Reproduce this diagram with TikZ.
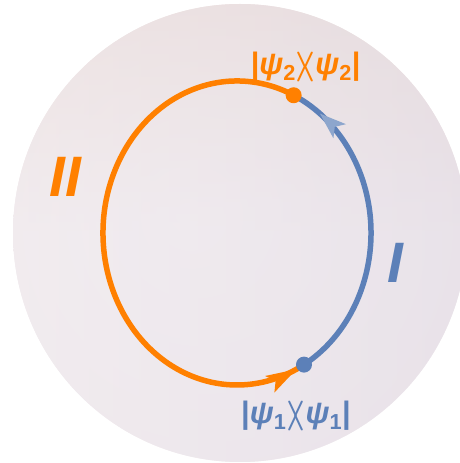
\documentclass[tikz,border=0pt]{standalone}
\usepackage{fontspec}
\setmainfont{Liberation Sans}
\usetikzlibrary{positioning,arrows.meta,decorations.markings}
\definecolor{pathorange}{RGB}{255,128,0}
\definecolor{pathblue}{RGB}{92,128,184}
\definecolor{ballmid}{RGB}{243,238,241}
\definecolor{ballhalf}{RGB}{235,226,230}
\definecolor{ballrim}{RGB}{220,200,205}
\definecolor{ballwarm}{RGB}{232,208,194}
\definecolor{ballcool}{RGB}{228,222,232}
\pgfdeclareradialshading{ballshade}{\pgfpoint{-6bp}{2bp}}{color(0bp)=(ballmid); color(30bp)=(ballhalf); color(50bp)=(ballrim)}
\begin{document}
\begin{tikzpicture}[x=1pt,y=1pt,
    loop/.style={line width=5.5,line cap=round},
    statedot/.style={circle,fill,inner sep=0,minimum size=16},
    ketlbl/.style={font=\fontsize{31}{34}\selectfont\bfseries\boldmath,inner sep=0},
    numlbl/.style={font=\fontsize{57}{60}\selectfont\bfseries\itshape,inner sep=0}]
  \useasboundingbox (0,0) rectangle (460,463);
  % sphere
  \begin{scope}
    \clip (0,0) rectangle (460,463);
    \shade[shading=ballshade] (240,230) ellipse (227 and 229);
    \shade[top color=ballwarm,bottom color=ballmid,middle color=ballmid,opacity=0.45] (240,230) ellipse (227 and 229);
    \shade[left color=ballmid,right color=ballcool,opacity=0.5] (240,230) ellipse (227 and 229);
  \end{scope}
  % states on the loop
  \coordinate (c) at (237,230);
  \path (c) ++(65:134 and 152) coordinate (p2);
  \path (c) ++(-60:134 and 152) coordinate (p1);
  % path II
  \draw[loop,pathorange,postaction={decorate},
    decoration={markings,mark=at position 0.985 with {\arrow{Stealth[length=30,width=18,inset=6]}}}]
    (p2) arc[start angle=65,end angle=300,x radius=134,y radius=152];
  % path I
  \draw[loop,pathblue,postaction={decorate},
    decoration={markings,mark=at position 0.9 with {\arrow[pathblue!70!white]{Stealth[length=26,width=18,inset=6]}}}]
    (p1) arc[start angle=-60,end angle=65,x radius=134,y radius=152];
  \node[statedot,pathorange] (d2) at (p2) {};
  \node[statedot,pathblue] (d1) at (p1) {};
  % labels
  \node[ketlbl,pathorange,above=13 of p2,xshift=12] (k2) {\textbar\textit{ψ}\textsubscript{2}\scalebox{1.35}[1.2]{$\rangle\mkern-5mu\langle$}\textit{ψ}\textsubscript{2}\textbar};
  \node[ketlbl,pathblue,below=36 of p1,xshift=-8] (k1) {\textbar\textit{ψ}\textsubscript{1}\scalebox{1.35}[1.2]{$\rangle\mkern-5mu\langle$}\textit{ψ}\textsubscript{1}\textbar};
  \node[numlbl,pathorange] (n2) at (65,286) {II};
  \node[numlbl,pathblue] (n1) at (395,200) {I};
\end{tikzpicture}
\end{document}
